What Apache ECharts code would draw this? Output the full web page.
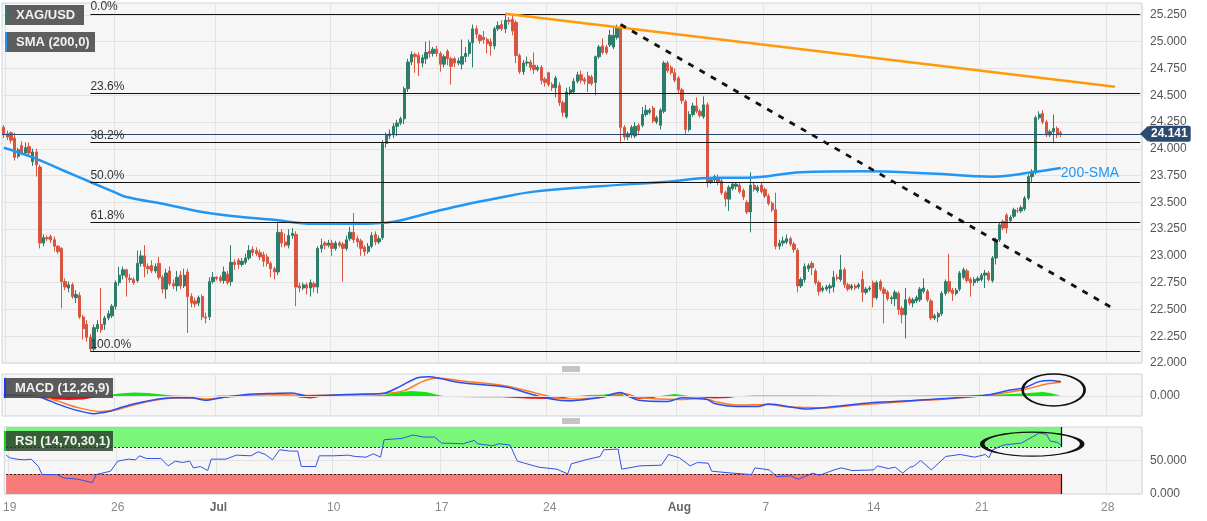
<!DOCTYPE html>
<html><head><meta charset="utf-8">
<script src="https://cdn.jsdelivr.net/npm/echarts/dist/echarts.min.js"></script>
<style>html,body{margin:0;padding:0;background:#fff}#c{width:1207px;height:521px}</style>
</head><body><div id="c"></div>
<script>
// ---- DATA ----
// 4H candles: [open, close, low, high]
const candles = [
[24.20,24.13,24.10,24.22],[24.14,24.11,24.08,24.17],[24.15,24.08,24.05,24.16],[24.10,23.92,23.89,24.15],[23.93,23.99,23.91,24.01],
[24.03,23.96,23.94,24.07],[23.96,24.01,23.94,24.06],[24.02,23.96,23.93,24.06],[23.88,23.97,23.84,24.00],[23.97,23.85,23.74,24.00],
[23.83,23.12,23.07,23.85],[23.12,23.17,23.09,23.20],[23.17,23.16,23.14,23.19],[23.18,23.15,23.12,23.20],[23.15,23.09,23.04,23.18],
[23.09,23.04,23.02,23.10],[23.07,22.76,22.51,23.08],[22.76,22.71,22.68,22.79],[22.70,22.73,22.66,22.76],[22.73,22.62,22.60,22.75],
[22.61,22.64,22.56,22.68],[22.63,22.43,22.41,22.66],[22.43,22.32,22.22,22.45],[22.36,22.24,22.20,22.40],[22.24,22.13,22.11,22.27],
[22.13,22.33,22.11,22.36],[22.32,22.36,22.29,22.40],[22.36,22.31,22.28,22.70],[22.36,22.42,22.31,22.44],[22.42,22.46,22.40,22.49],
[22.44,22.53,22.42,22.55],[22.53,22.75,22.50,22.77],[22.75,22.82,22.72,22.90],[22.82,22.87,22.78,22.90],[22.87,22.80,22.62,22.88],
[22.79,22.78,22.75,22.83],[22.78,22.75,22.73,22.80],[22.77,22.93,22.75,23.05],[22.93,23.00,22.90,23.05],[23.00,22.90,22.80,23.10],
[22.90,22.88,22.83,22.93],[22.91,22.86,22.84,22.96],[22.86,22.90,22.84,22.93],[22.93,22.80,22.78,22.99],[22.80,22.69,22.65,22.82],
[22.69,22.84,22.60,22.88],[22.86,22.74,22.72,22.90],[22.74,22.72,22.69,22.78],[22.72,22.80,22.67,22.86],[22.82,22.72,22.69,22.86],
[22.72,22.82,22.70,22.88],[22.85,22.62,22.28,22.88],[22.62,22.56,22.52,22.65],[22.58,22.55,22.52,22.61],[22.56,22.61,22.53,22.63],
[22.62,22.43,22.40,22.64],[22.43,22.42,22.37,22.47],[22.43,22.76,22.40,22.80],[22.76,22.80,22.74,22.85],[22.80,22.79,22.77,22.81],
[22.80,22.77,22.75,22.82],[22.77,22.85,22.74,22.90],[22.83,22.75,22.73,22.86],[22.76,22.94,22.72,23.10],[22.94,22.92,22.87,22.97],
[22.96,22.92,22.88,22.98],[22.92,22.95,22.90,22.98],[22.94,22.98,22.92,23.02],[22.98,23.05,22.96,23.10],[23.06,23.03,23.00,23.09],
[23.05,23.02,23.00,23.08],[23.03,22.99,22.96,23.06],[23.01,22.95,22.90,23.04],
[22.99,22.93,22.90,23.02],[22.93,22.88,22.80,22.95],[22.88,22.85,22.78,22.90],[22.85,23.22,22.82,23.32],[23.22,23.12,23.08,23.25],
[23.13,23.10,23.08,23.21],[23.10,23.19,23.07,23.25],[23.19,23.21,23.16,23.26],[23.20,22.71,22.53,23.23],[22.72,22.70,22.66,22.75],
[22.70,22.73,22.68,22.75],[22.73,22.70,22.64,22.75],[22.70,22.75,22.62,22.78],[22.74,22.71,22.66,22.76],[22.71,23.07,22.65,23.09],
[23.07,23.10,23.03,23.16],[23.12,23.10,23.06,23.14],[23.10,23.12,23.08,23.15],[23.12,23.07,23.00,23.15],[23.07,23.12,23.05,23.14],
[23.12,23.10,23.08,23.14],[23.11,23.07,22.76,23.13],[23.07,23.15,23.05,23.19],[23.16,23.22,23.14,23.27],[23.22,23.15,23.12,23.40],
[23.16,23.13,23.08,23.19],[23.14,23.07,23.00,23.16],[23.08,23.04,23.00,23.10],[23.04,23.09,23.02,23.12],[23.09,23.19,23.07,23.22],
[23.20,23.13,23.10,23.23],[23.13,23.16,23.11,23.19],[23.17,24.05,23.15,24.08],[24.05,24.13,24.01,24.15],[24.12,24.14,24.09,24.18],
[24.13,24.21,24.10,24.24],[24.21,24.24,24.12,24.27],[24.24,24.28,24.22,24.30],[24.28,24.56,24.23,24.58],[24.56,24.81,24.53,24.84],
[24.81,24.88,24.78,24.91],[24.88,24.86,24.71,24.90],[24.87,24.80,24.68,24.90],[24.80,24.85,24.76,24.88],[24.84,24.90,24.79,25.00],
[24.91,24.89,24.85,25.01],[24.89,24.93,24.86,24.95],[24.93,24.89,24.86,24.96],[24.89,24.79,24.72,24.91],[24.79,24.86,24.76,24.88],
[24.91,24.84,24.78,24.93],[24.84,24.77,24.60,24.86],[24.84,24.80,24.76,24.86],[24.80,24.82,24.78,24.85],[24.79,24.86,24.74,25.02],
[24.86,24.89,24.81,24.95],[24.89,24.99,24.86,25.02],[24.99,25.12,24.76,25.16],[25.12,25.07,25.03,25.15],[25.06,25.01,24.98,25.07],
[25.04,25.02,24.98,25.10],[25.02,24.98,24.89,25.04],[25.00,24.96,24.87,25.03],[24.96,25.12,24.93,25.14],[25.12,25.15,25.10,25.19],
[25.16,25.12,25.10,25.20],[25.12,25.20,25.08,25.26],[25.20,25.19,25.16,25.23],[25.21,25.10,25.06,25.25],[25.18,24.87,24.80,25.20],
[24.87,24.72,24.70,24.89],[24.72,24.80,24.69,24.83],[24.80,24.81,24.77,24.86],[24.81,24.76,24.73,24.83],
[24.78,24.74,24.70,24.90],[24.74,24.76,24.72,24.78],[24.76,24.64,24.60,24.78],[24.65,24.62,24.58,24.67],[24.71,24.60,24.58,24.72],
[24.60,24.57,24.54,24.62],[24.57,24.66,24.48,24.68],[24.59,24.43,24.40,24.62],[24.43,24.34,24.30,24.45],[24.30,24.53,24.28,24.57],
[24.52,24.55,24.50,24.58],[24.53,24.63,24.51,24.66],[24.63,24.69,24.61,24.72],[24.69,24.64,24.61,24.73],[24.65,24.63,24.60,24.67],
[24.68,24.61,24.53,24.72],[24.67,24.61,24.59,24.69],[24.62,24.86,24.50,24.87],[24.86,24.95,24.84,24.97],[24.96,24.90,24.88,25.03],
[24.95,24.90,24.88,24.97],[24.97,25.06,24.95,25.11],[24.95,25.06,24.93,25.13],[25.04,25.13,25.02,25.16],[25.13,24.20,24.05,25.16],
[24.20,24.11,24.08,24.22],[24.11,24.14,24.08,24.16],[24.13,24.20,24.10,24.22],[24.12,24.21,24.10,24.25],[24.22,24.17,24.14,24.24],
[24.22,24.32,24.20,24.39],[24.32,24.36,24.30,24.41],[24.34,24.36,24.32,24.38],[24.38,24.26,24.24,24.40],[24.25,24.29,24.23,24.31],
[24.22,24.36,24.18,24.38],[24.35,24.80,24.33,24.82],[24.80,24.73,24.71,24.82],[24.76,24.71,24.69,24.78],[24.71,24.64,24.62,24.75],
[24.66,24.55,24.52,24.68],[24.55,24.45,24.42,24.57],[24.44,24.18,24.13,24.46],[24.18,24.32,24.16,24.35],[24.32,24.40,24.30,24.43],
[24.40,24.35,24.33,24.48],[24.35,24.31,24.29,24.37],[24.30,24.41,24.28,24.49],[24.41,23.69,23.64,24.43],[23.69,23.71,23.67,23.72],
[23.71,23.74,23.69,23.76],[23.72,23.69,23.66,23.76],[23.70,23.59,23.57,23.72],[23.59,23.53,23.46,23.61],[23.53,23.64,23.42,23.66],
[23.63,23.67,23.61,23.69],[23.65,23.67,23.62,23.69],[23.66,23.60,23.58,23.68],[23.61,23.55,23.52,23.63],[23.50,23.41,23.39,23.52],
[23.41,23.66,23.22,23.78],[23.66,23.62,23.60,23.69],[23.61,23.64,23.59,23.66],[23.66,23.60,23.58,23.68],[23.62,23.56,23.54,23.64],
[23.56,23.49,23.47,23.58],[23.49,23.43,23.41,23.51],[23.43,23.09,23.06,23.59],[23.09,23.12,23.06,23.15],[23.12,23.14,23.09,23.18],
[23.13,23.16,23.11,23.20],[23.16,23.11,23.09,23.18],[23.11,23.06,23.03,23.13],
[23.05,22.72,22.66,23.07],[22.72,22.78,22.70,22.80],[22.78,22.90,22.75,22.93],[22.88,22.91,22.85,22.93],[22.93,22.89,22.82,22.95],
[22.86,22.75,22.73,22.88],[22.75,22.67,22.63,22.77],[22.68,22.70,22.66,22.72],[22.69,22.71,22.67,22.73],[22.70,22.72,22.65,22.74],
[22.71,22.80,22.66,22.86],[22.80,22.79,22.77,22.83],[22.78,22.87,22.76,23.01],[22.87,22.73,22.70,22.89],[22.73,22.69,22.67,22.75],
[22.70,22.72,22.68,22.74],[22.72,22.70,22.68,22.74],[22.71,22.73,22.69,22.75],[22.78,22.66,22.57,22.86],[22.66,22.69,22.64,22.71],
[22.69,22.70,22.67,22.72],[22.75,22.61,22.52,22.77],[22.61,22.75,22.59,22.77],[22.76,22.69,22.67,22.78],[22.69,22.65,22.37,22.71],
[22.66,22.60,22.58,22.68],[22.60,22.61,22.55,22.63],[22.60,22.66,22.53,22.68],[22.65,22.50,22.45,22.67],[22.51,22.45,22.37,22.53],
[22.45,22.59,22.23,22.70],[22.60,22.56,22.54,22.62],[22.56,22.59,22.52,22.61],[22.58,22.61,22.56,22.63],[22.59,22.69,22.57,22.71],
[22.67,22.70,22.65,22.79],[22.67,22.59,22.57,22.69],[22.58,22.42,22.40,22.60],[22.42,22.44,22.40,22.46],[22.43,22.46,22.38,22.48],
[22.46,22.65,22.44,22.67],[22.65,22.76,22.63,22.78],[22.76,22.67,22.65,23.02],[22.68,22.65,22.58,22.70],[22.65,22.68,22.63,22.70],
[22.69,22.84,22.67,22.86],[22.80,22.87,22.78,22.89],[22.86,22.77,22.75,22.88],[22.78,22.75,22.62,22.80],[22.75,22.78,22.72,22.80],
[22.77,22.79,22.75,22.81],[22.78,22.82,22.76,22.84],[22.82,22.84,22.70,22.87],[22.84,22.78,22.76,22.86],[22.77,22.98,22.75,23.00],
[22.98,23.15,22.92,23.17],[23.15,23.29,23.13,23.31],[23.32,23.26,23.24,23.34],[23.38,23.26,23.21,23.40],[23.33,23.36,23.31,23.38],
[23.37,23.43,23.35,23.45],[23.42,23.42,23.40,23.45],[23.42,23.45,23.40,23.47],[23.44,23.54,23.42,23.56],[23.54,23.74,23.52,23.76],
[23.74,23.79,23.69,23.81],[23.78,24.29,23.76,24.31],[24.29,24.32,24.27,24.35],[24.33,24.25,24.23,24.36],[24.25,24.13,24.11,24.27],
[24.13,24.16,24.11,24.18],[24.16,24.19,24.05,24.32],[24.19,24.13,24.10,24.21],[24.15,24.141,24.11,24.17]
];
// 200-period SMA, [candle index, value]
const sma200 = [[0,24.01],[8,23.92],[17,23.79],[24,23.69],[31,23.59],[34,23.55],[45,23.48],[55,23.41],[64,23.37],[74,23.34],[86,23.30],[100,23.30],[108,23.32],[119,23.41],[128,23.48],[137,23.54],[147,23.60],[165,23.65],[183,23.69],[197,23.73],[206,23.73],[221,23.78],[238,23.79],[257,23.77],[274,23.74],[285,23.78],[293,23.82]];
// MACD (12,26,9)
const macdLine = [[0,0.012],[5,0.006],[10,-0.012],[15,-0.081],[20,-0.141],[25,-0.177],[29,-0.156],[31,-0.132],[36,-0.081],[41,-0.042],[47,-0.018],[52,-0.018],[56,-0.042],[61,-0.012],[68,0.018],[73,0.024],[80,0.03],[84,0],[89,0.006],[95,0.015],[105,0.024],[110,0.099],[115,0.186],[118,0.192],[121,0.174],[127,0.132],[137,0.099],[140,0.084],[148,0],[156,-0.048],[166,-0.009],[171,0.036],[173,0],[176,-0.042],[184,-0.054],[188,-0.018],[195,-0.036],[197,-0.075],[203,-0.105],[209,-0.105],[212,-0.081],[219,-0.114],[222,-0.129],[228,-0.114],[241,-0.066],[252,-0.045],[263,-0.021],[273,0.012],[279,0.06],[283,0.084],[287,0.144],[290,0.156],[293,0.144]];
const signalLine = [[0,0],[10,-0.006],[15,-0.051],[20,-0.111],[27,-0.156],[31,-0.141],[36,-0.09],[41,-0.048],[47,-0.021],[52,-0.021],[56,-0.03],[63,-0.006],[73,0.018],[84,0.006],[95,0.012],[105,0.024],[111,0.054],[116,0.144],[120,0.18],[127,0.15],[140,0.096],[148,0.024],[153,-0.018],[158,-0.03],[166,-0.012],[172,0.024],[176,-0.015],[187,-0.036],[194,-0.024],[197,-0.054],[203,-0.09],[212,-0.084],[217,-0.108],[222,-0.114],[228,-0.12],[235,-0.096],[252,-0.051],[263,-0.024],[273,0.009],[283,0.066],[289,0.12],[293,0.138]];
const macdHist = [[0,0.015],[3,0.01],[6,0],[10,-0.015],[14,-0.035],[18,-0.04],[22,-0.035],[26,-0.01],[27,0],[28,0.005],[32,0.025],[36,0.036],[40,0.03],[44,0.015],[47,0.004],[52,0],[56,-0.005],[58,0],[60,0.004],[66,0.006],[72,0.006],[78,0.004],[80,0],[82,-0.015],[85,-0.024],[88,-0.008],[90,0],[92,0.004],[100,0.006],[105,0.01],[109,0.035],[113,0.05],[117,0.04],[121,0.004],[122,0],[126,-0.01],[132,-0.012],[138,-0.012],[142,-0.02],[146,-0.028],[150,-0.03],[154,-0.025],[158,-0.005],[159,0],[162,0.01],[166,0.012],[169,0.025],[171,0.03],[172,0],[173,-0.01],[176,-0.03],[180,-0.02],[182,0],[183,0.005],[186,0.02],[189,0.005],[190,0],[193,-0.015],[197,-0.024],[201,-0.02],[204,-0.003],[205,0],[208,0.006],[216,0.006],[224,0.005],[232,0.002],[245,0.002],[258,0.006],[268,0.01],[276,0.015],[282,0.025],[286,0.035],[288,0.039],[290,0.03],[293,0.006]];
// RSI (14)
const rsiLine = [[0,58],[1,54],[3,52],[5,51],[7,52],[9,41],[10,29],[14,29],[16,24],[20,22],[24,17],[25,29],[29,34],[31,49],[34,52],[36,51],[37,57],[39,53],[43,53],[45,42],[47,49],[49,47],[51,49],[52,39],[54,41],[56,35],[57,52],[61,52],[63,56],[64,58],[68,57],[70,63],[72,59],[74,51],[76,66],[79,64],[81,64],[82,41],[86,41],[87,57],[91,57],[95,58],[97,56],[100,55],[102,60],[104,55],[105,81],[110,83],[113,88],[116,85],[119,85],[121,76],[127,75],[130,80],[131,75],[135,72],[137,75],[140,73],[142,49],[144,46],[148,40],[153,37],[156,30],[157,45],[161,51],[165,56],[166,66],[170,67],[171,37],[176,42],[182,43],[184,59],[187,54],[190,42],[192,47],[195,46],[196,34],[202,31],[207,29],[208,39],[212,36],[214,26],[218,27],[220,22],[224,31],[226,28],[230,36],[232,39],[235,35],[241,36],[242,42],[245,38],[247,40],[249,31],[251,40],[252,41],[254,50],[257,36],[261,56],[265,59],[269,55],[272,59],[273,54],[274,66],[277,73],[282,76],[285,85],[287,91],[289,89],[290,79],[292,77],[293,73]];
// axis labels
const dateLabels = ['19','26','Jul','10','17','24','Aug','7','14','21','28'];
const dateLabelIndex = [1,31,59,91,121,151,187,211,241,271,306];
const boldLabels = ['Jul','Aug'];
// Fibonacci retracement
const fibNames = ['0.0%','23.6%','38.2%','50.0%','61.8%','100.0%'];
const fibLevels = [25.26,24.517,24.057,23.685,23.313,22.11];
const fibStartIndex = 24;
const lastPrice = 24.141;
// trend lines [index, price]
const resistanceLine = [[139,25.26],[308,24.58]];
const dashedTrendLine = [[171,25.16],[308,22.50]];
const rsiUpper = 70, rsiLower = 30;
// annotation ellipses, centers in data coords
const macdEllipse = {center:[291, 0.06]};
const rsiEllipse = {center:[284.5, 74.5]};

// ---- LAYOUT ----
const totalSlots = 316;
const categories = Array.from({length: totalSlots}, (_, i) => String(i));
const labelMap = {};
dateLabelIndex.forEach((idx, k) => { labelMap[idx] = dateLabels[k]; });
const lastIdx = candles.length - 1;
const FONT = 'Arial, "Liberation Sans", sans-serif';
const UP = '#2e7d6b', DOWN = '#d8553f';
const gridBase = {left: 2, right: 65, show: true, backgroundColor: '#f6f6f6', borderColor: '#cdd4df', borderWidth: 1};
const xInt = (i) => labelMap[i] !== undefined;
function xAxisFor(gi, showLabels) {
  return {
    type: 'category', gridIndex: gi, data: categories, boundaryGap: true,
    axisLine: {show: false}, axisTick: {show: false},
    splitLine: {show: true, interval: (i) => xInt(i), lineStyle: {color: '#e3e3e3'}},
    axisLabel: {
      show: showLabels, interval: (i) => xInt(i), margin: 8, fontFamily: FONT, fontSize: 12, color: '#888',
      formatter: (v, i) => { const t = labelMap[i]; if (t === undefined) return ''; return boldLabels.includes(t) ? '{b|' + t + '}' : t; },
      rich: {b: {fontWeight: 'bold', color: '#666', fontSize: 12, fontFamily: FONT}}
    }
  };
}
const yLab = {fontFamily: FONT, fontSize: 12, color: '#555', margin: 8};

const fibMarks = fibLevels.map((lv, k) => [
  {coord: [fibStartIndex, lv], lineStyle: {color: '#111', width: 1.2, type: 'solid'},
   label: {show: true, formatter: fibNames[k], position: 'insideStartTop', distance: [0, 1], color: '#333', fontSize: 12, fontFamily: FONT}},
  {coord: [totalSlots - 1, lv]}
]);

const posHist = macdHist.map(([i, v]) => [i, Math.max(v, 0)]);
const negHist = macdHist.map(([i, v]) => [i, Math.min(v, 0)]);

const option = {
  animation: false,
  backgroundColor: '#ffffff',
  grid: [
    Object.assign({top: 3, height: 360}, gridBase),
    Object.assign({top: 374, height: 42}, gridBase),
    Object.assign({top: 427, height: 67}, gridBase)
  ],
  xAxis: [xAxisFor(0, false), xAxisFor(1, false), xAxisFor(2, true)],
  yAxis: [
    {type: 'value', gridIndex: 0, position: 'right', min: 22, max: 25.361, interval: 0.25,
     axisLine: {show: false}, axisTick: {show: false}, splitLine: {lineStyle: {color: '#e3e3e3'}},
     axisLabel: Object.assign({formatter: (v) => v.toFixed(3), showMaxLabel: false}, yLab)},
    {type: 'value', gridIndex: 1, position: 'right', min: -0.2, max: 0.22, interval: 0.2,
     axisLine: {show: false}, axisTick: {show: false}, splitLine: {show: false},
     axisLabel: Object.assign({formatter: (v) => Math.abs(v) < 1e-9 ? '0.000' : ''}, yLab)},
    {type: 'value', gridIndex: 2, position: 'right', min: 0, max: 100, interval: 50,
     axisLine: {show: false}, axisTick: {show: false}, splitLine: {lineStyle: {color: '#e3e3e3'}},
     axisLabel: Object.assign({formatter: (v) => v === 100 ? '' : v.toFixed(3)}, yLab)}
  ],
  series: [
    {
      name: 'XAG/USD', type: 'candlestick', xAxisIndex: 0, yAxisIndex: 0, data: candles,
      barWidth: '78%',
      itemStyle: {color: UP, color0: DOWN, borderColor: UP, borderColor0: DOWN, borderWidth: 1},
      markLine: {
        silent: true, symbol: ['none', 'none'], animation: false,
        data: [
          ...fibMarks,
          {yAxis: lastPrice, lineStyle: {color: '#2b4a72', width: 1.2, type: 'solid'},
           label: {show: true, position: 'end', formatter: lastPrice.toFixed(3), color: '#fff', backgroundColor: '#2b4a72',
                   fontWeight: 'bold', fontSize: 12, fontFamily: FONT, padding: [2, 3, 2, 3], distance: 6, borderRadius: 2}},
          [{coord: resistanceLine[0], lineStyle: {color: '#ff9a0a', width: 2.5, type: 'solid'}, label: {show: false}}, {coord: resistanceLine[1]}],
          [{coord: dashedTrendLine[0], lineStyle: {color: '#111', width: 2.8, type: [6, 7]}, label: {show: false}}, {coord: dashedTrendLine[1]}]
        ]
      }
    },
    {
      name: 'SMA (200,0)', type: 'line', xAxisIndex: 0, yAxisIndex: 0, data: sma200, smooth: 0.4,
      showSymbol: false, lineStyle: {color: '#2196f3', width: 2.5}, itemStyle: {color: '#2196f3'},
      endLabel: {show: true, formatter: '200-SMA', color: '#2196f3', fontSize: 14, fontFamily: FONT, distance: 0, offset: [0, 5]}
    },
    {type: 'line', xAxisIndex: 1, yAxisIndex: 1, data: posHist, showSymbol: false, lineStyle: {width: 0},
     areaStyle: {color: '#12e612', opacity: 1}, z: 2,
     markLine: {silent: true, symbol: ['none', 'none'], data: [{yAxis: 0}], lineStyle: {color: '#e0e0e0', width: 1, type: 'solid'}, label: {show: false}}},
    {type: 'line', xAxisIndex: 1, yAxisIndex: 1, data: negHist, showSymbol: false, lineStyle: {width: 0},
     areaStyle: {color: '#f01414', opacity: 1}, z: 2},
    {name: 'MACD', type: 'line', xAxisIndex: 1, yAxisIndex: 1, data: macdLine, smooth: 0.3, showSymbol: false,
     lineStyle: {color: '#2a4bf0', width: 1.5}, z: 4},
    {name: 'Signal', type: 'line', xAxisIndex: 1, yAxisIndex: 1, data: signalLine, smooth: 0.3, showSymbol: false,
     lineStyle: {color: '#ff7a1f', width: 1.5}, z: 3},
    {
      name: 'RSI', type: 'line', xAxisIndex: 2, yAxisIndex: 2, data: rsiLine, showSymbol: false,
      lineStyle: {color: '#3352e6', width: 1}, z: 5,
      markArea: {silent: true, data: [
        [{coord: [0, rsiUpper], itemStyle: {color: '#7af77a'}}, {coord: [lastIdx, 100]}],
        [{coord: [0, 0], itemStyle: {color: '#f77b78'}}, {coord: [lastIdx, rsiLower]}]
      ]},
      markLine: {silent: true, symbol: ['none', 'none'], label: {show: false}, data: [
        [{coord: [0, rsiUpper], lineStyle: {color: '#222', width: 1, type: [2, 2]}}, {coord: [lastIdx, rsiUpper]}],
        [{coord: [0, rsiLower], lineStyle: {color: '#222', width: 1, type: [2, 2]}}, {coord: [lastIdx, rsiLower]}],
        [{coord: [lastIdx, rsiUpper], lineStyle: {color: '#111', width: 1.2, type: 'solid'}}, {coord: [lastIdx, 100]}],
        [{coord: [lastIdx, 0], lineStyle: {color: '#111', width: 1.2, type: 'solid'}}, {coord: [lastIdx, rsiLower]}]
      ]}
    }
  ]
};

const chart = echarts.init(document.getElementById('c'), null, {renderer: 'canvas'});
chart.setOption(option);

// decorative legend boxes / separators / ellipse annotations
function tag(x, y, w, text, accent, bg) {
  return {type: 'group', z: 200, children: [
    {type: 'rect', z: 200, shape: {x: x, y: y, width: w, height: 20}, style: {fill: bg}},
    {type: 'rect', z: 201, shape: {x: x, y: y, width: 2, height: 20}, style: {fill: accent}},
    {type: 'text', z: 202, x: x + 11, y: y + 10, style: {text: text, fill: '#f2f2f2', font: 'bold 13px ' + FONT, verticalAlign: 'middle'}}
  ]};
}
function handle(cx, cy) {
  return {type: 'group', z: 200, children: [0, 2, 4].map(d => ({type: 'line', z: 200, shape: {x1: cx - 9, y1: cy - 2 + d, x2: cx + 9, y2: cy - 2 + d}, style: {stroke: '#8a8a8a', lineWidth: 1}}))};
}
const mc = chart.convertToPixel({gridIndex: 1}, macdEllipse.center);
const rc = chart.convertToPixel({gridIndex: 2}, rsiEllipse.center);
const py = chart.convertToPixel({yAxisIndex: 0}, lastPrice);
const gridRight = 1207 - 65;
chart.setOption({graphic: [
  tag(5, 5, 79, 'XAG/USD', UP, 'rgba(80,80,80,0.92)'),
  tag(5, 32, 90, 'SMA (200,0)', '#2196f3', 'rgba(80,80,80,0.92)'),
  tag(4, 378, 109, 'MACD (12,26,9)', '#2030ff', 'rgba(70,70,70,0.88)'),
  tag(4, 431, 109, 'RSI (14,70,30,1)', '#1fd11f', 'rgba(40,60,40,0.82)'),
  handle(571, 369), handle(571, 421),
  {type: 'polygon', z: 200, shape: {points: [[gridRight - 2, py], [gridRight + 6, py - 8], [gridRight + 6, py + 8]]}, style: {fill: '#2b4a72'}},
  {type: 'circle', z: 200, x: mc[0], y: mc[1], scaleX: 31 / 16, shape: {cx: 0, cy: 0, r: 16}, style: {fill: 'none', stroke: '#111', lineWidth: 1.4}},
  {type: 'circle', z: 200, x: rc[0], y: rc[1], scaleX: 50 / 12, shape: {cx: 0, cy: 0, r: 12}, style: {fill: 'none', stroke: '#111', lineWidth: 1.1}}
]});
</script>
</body></html>
